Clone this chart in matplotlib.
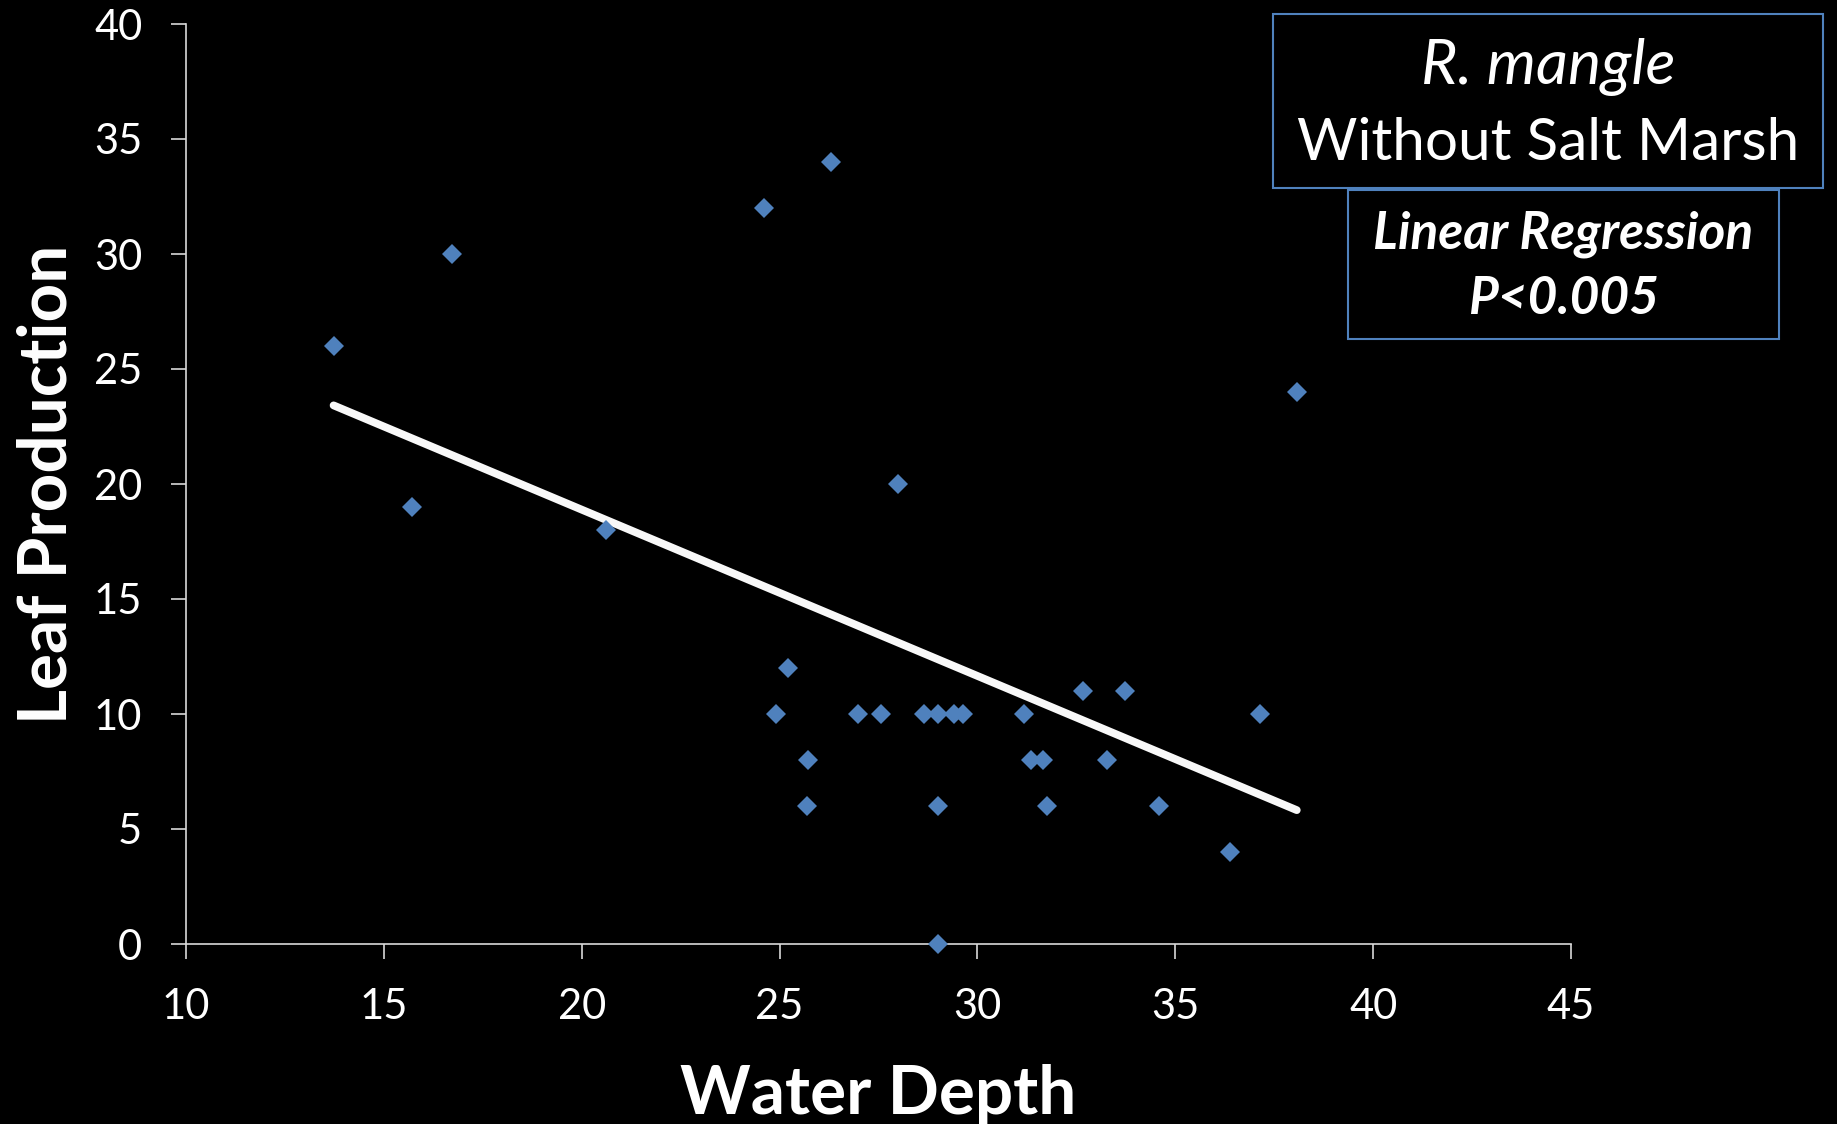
import numpy as np
import matplotlib.pyplot as plt
from matplotlib.patches import Rectangle

# water depth vs. leaf production, R. mangle plots without salt marsh
depth = [13.73, 15.72, 16.73, 20.61, 24.61, 26.30, 27.99, 38.07,
         25.22, 24.92, 25.72, 25.69, 26.99, 27.57, 28.65, 29.01,
         29.42, 29.63, 29.01, 29.01, 31.18, 31.36, 31.66, 31.77,
         32.67, 33.72, 33.27, 34.60, 36.38, 37.13]
leaves = [26, 19, 30, 18, 32, 34, 20, 24,
          12, 10, 8, 6, 10, 10, 10, 10,
          10, 10, 6, 0, 10, 8, 8, 6,
          11, 11, 8, 6, 4, 10]

x_ticks = [10, 15, 20, 25, 30, 35, 40, 45]
y_ticks = [0, 5, 10, 15, 20, 25, 30, 35, 40]

FONT = 'Lato'
BLUE = '#4F81BD'
AXIS = '#d9d9d9'

W, H = 1837, 1124
fig = plt.figure(figsize=(W / 100, H / 100), dpi=100, facecolor='black')
ax = fig.add_axes([186 / W, 1 - 944 / H, (1571 - 186) / W, (944 - 24) / H])
ax.set_facecolor('black')

xs = np.array(depth)
ys = np.array(leaves)

# least squares fit drawn across the observed depth range
slope, icpt = np.polyfit(xs, ys, 1)
fit_x = np.array([xs.min(), xs.max()])
ax.plot(fit_x, slope * fit_x + icpt, color='#f8f8f8', lw=5.6,
        solid_capstyle='round', zorder=3)

ax.plot(xs, ys, 'D', color=BLUE, markersize=10, mew=0,
        clip_on=False, zorder=4)

ax.set_xlim(10, 45)
ax.set_ylim(0, 40)
ax.set_xticks(x_ticks)
ax.set_yticks(y_ticks)

for s in ['top', 'right']:
    ax.spines[s].set_visible(False)
for s in ['left', 'bottom']:
    ax.spines[s].set_color(AXIS)
    ax.spines[s].set_linewidth(1.2)

ax.tick_params(direction='out', length=10.5, width=1.2, color=AXIS,
               labelcolor='white', labelsize=30)
ax.tick_params(axis='x', pad=21)
ax.tick_params(axis='y', pad=21)
for lab in ax.get_xticklabels() + ax.get_yticklabels():
    lab.set_family(FONT)

ax.set_xlabel('Water Depth', color='white', fontsize=48.5,
              fontweight='bold', family=FONT)
ax.xaxis.label.set_va('baseline')
ax.xaxis.set_label_coords(0.5, (944 - 1114) / 920)

ax.set_ylabel('Leaf Production', color='white', fontsize=48.5,
              fontweight='bold', family=FONT)
ax.yaxis.label.set_va('baseline')
ax.yaxis.set_label_coords((67 - 186) / 1385, 0.5)

# title boxes in the top right corner
def box(x0, y0, x1, y1):
    fig.patches.append(Rectangle((x0 / W, 1 - y1 / H), (x1 - x0) / W,
                                 (y1 - y0) / H, transform=fig.transFigure,
                                 fill=False, ec=BLUE, lw=1.5))

box(1273, 14, 1823, 188)
box(1348, 190, 1779, 339)

fig.text(1548 / W, 1 - 84 / H, 'R. mangle', color='white', fontsize=45,
         style='italic', family=FONT, ha='center', va='baseline')
fig.text(1548 / W, 1 - 160 / H, 'Without Salt Marsh', color='white',
         fontsize=42, family=FONT, ha='center', va='baseline')
fig.text(1563 / W, 1 - 249 / H, 'Linear Regression', color='white',
         fontsize=37, style='italic', fontweight='bold', family=FONT,
         ha='center', va='baseline')
fig.text(1563 / W, 1 - 314 / H, 'P<0.005', color='white', fontsize=37,
         style='italic', fontweight='bold', family=FONT,
         ha='center', va='baseline')

fig.savefig('out.png', dpi=100, facecolor='black')
